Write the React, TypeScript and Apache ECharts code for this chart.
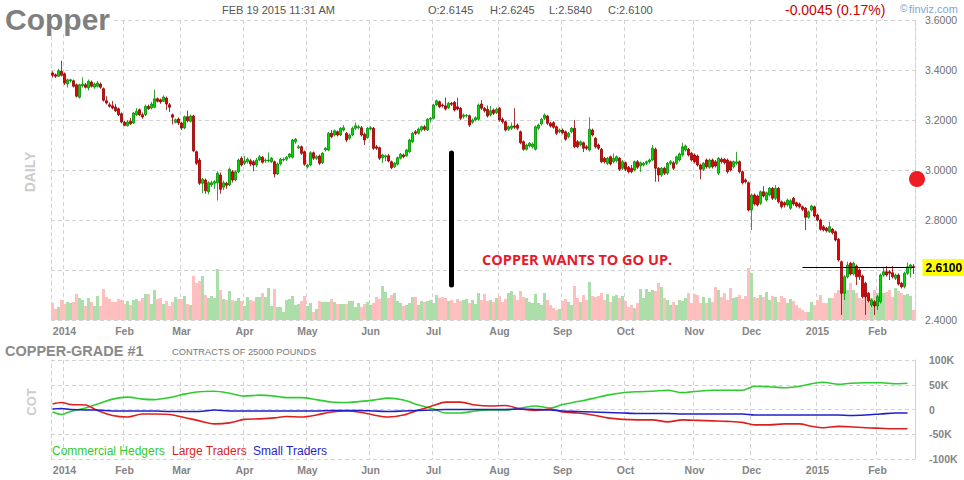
import { useEffect, useRef } from "react";
import * as echarts from "echarts";

// trading days shown on the chart (holidays and one missing session removed)
const firstDay = "2013-12-26";
const lastDay = "2015-02-19";
const closedDays = [
    "2014-01-01", "2014-01-02", "2014-01-20", "2014-02-17", "2014-04-18",
    "2014-05-26", "2014-07-04", "2014-09-01", "2014-11-27", "2014-12-25",
    "2015-01-01", "2015-01-19", "2015-02-16",
];
const monthNames = ["Jan", "Feb", "Mar", "Apr", "May", "Jun", "Jul", "Aug", "Sep", "Oct", "Nov", "Dec"];

// daily candles: [open, close, low, high]
const candles: number[][] = [
    [3.388, 3.379, 3.370, 3.395], [3.381, 3.375, 3.368, 3.386], [3.375, 3.397, 3.372, 3.405], [3.395, 3.379, 3.374, 3.437],
    [3.385, 3.348, 3.340, 3.390], [3.344, 3.361, 3.330, 3.366], [3.357, 3.361, 3.350, 3.365], [3.357, 3.335, 3.330, 3.362],
    [3.341, 3.295, 3.290, 3.346], [3.291, 3.341, 3.286, 3.345], [3.337, 3.344, 3.330, 3.371], [3.341, 3.331, 3.326, 3.348],
    [3.328, 3.355, 3.318, 3.362], [3.352, 3.335, 3.330, 3.358], [3.332, 3.344, 3.325, 3.350], [3.335, 3.348, 3.330, 3.356],
    [3.344, 3.331, 3.325, 3.350], [3.325, 3.279, 3.274, 3.330], [3.277, 3.268, 3.262, 3.295], [3.261, 3.255, 3.250, 3.270],
    [3.257, 3.248, 3.242, 3.276], [3.252, 3.237, 3.232, 3.265], [3.245, 3.221, 3.216, 3.250], [3.225, 3.192, 3.186, 3.230],
    [3.191, 3.179, 3.175, 3.196], [3.177, 3.192, 3.174, 3.200], [3.195, 3.185, 3.180, 3.208], [3.188, 3.228, 3.184, 3.232],
    [3.221, 3.235, 3.216, 3.248], [3.241, 3.221, 3.216, 3.246], [3.221, 3.212, 3.205, 3.230], [3.221, 3.255, 3.216, 3.262],
    [3.255, 3.245, 3.240, 3.262], [3.248, 3.264, 3.242, 3.272], [3.251, 3.285, 3.248, 3.321], [3.285, 3.275, 3.270, 3.290],
    [3.281, 3.272, 3.265, 3.286], [3.275, 3.292, 3.272, 3.298], [3.288, 3.264, 3.240, 3.294], [3.261, 3.251, 3.232, 3.268],
    [3.221, 3.211, 3.182, 3.226], [3.191, 3.201, 3.186, 3.206], [3.204, 3.188, 3.180, 3.210], [3.188, 3.168, 3.160, 3.193],
    [3.168, 3.213, 3.163, 3.218], [3.213, 3.197, 3.190, 3.237], [3.195, 3.216, 3.190, 3.222], [3.216, 3.077, 3.072, 3.221],
    [3.073, 3.027, 3.020, 3.078], [3.040, 2.947, 2.940, 3.048], [2.947, 2.963, 2.907, 2.968], [2.960, 2.917, 2.905, 2.966],
    [2.913, 2.949, 2.903, 2.955], [2.940, 2.949, 2.932, 2.957], [2.947, 2.953, 2.925, 2.960], [2.949, 2.987, 2.878, 2.995],
    [2.980, 2.923, 2.905, 2.990], [2.931, 2.949, 2.920, 2.958], [2.947, 2.939, 2.925, 2.953], [2.940, 3.003, 2.935, 3.010],
    [2.993, 2.960, 2.950, 3.000], [2.960, 2.993, 2.955, 2.998], [2.993, 3.040, 2.988, 3.046], [3.047, 3.020, 3.014, 3.055],
    [3.027, 3.036, 3.020, 3.056], [3.033, 3.043, 3.026, 3.050], [3.037, 3.024, 3.015, 3.045], [3.033, 3.020, 2.995, 3.040],
    [3.020, 3.040, 3.012, 3.048], [3.040, 3.053, 3.035, 3.060], [3.051, 3.031, 3.025, 3.056], [3.037, 3.040, 3.028, 3.046],
    [3.037, 3.040, 3.030, 3.070], [3.033, 3.047, 3.028, 3.052], [3.033, 2.984, 2.970, 3.038], [2.984, 3.024, 2.980, 3.030],
    [3.024, 3.043, 3.018, 3.048], [3.040, 3.043, 3.034, 3.050], [3.043, 3.051, 3.036, 3.056], [3.053, 3.064, 3.046, 3.068],
    [3.051, 3.120, 3.046, 3.125], [3.113, 3.123, 3.105, 3.128], [3.089, 3.093, 3.084, 3.100], [3.093, 3.067, 3.060, 3.098],
    [3.073, 3.023, 3.017, 3.078], [3.013, 3.020, 3.006, 3.025], [3.020, 3.069, 3.015, 3.075], [3.069, 3.047, 3.040, 3.074],
    [3.047, 3.053, 3.040, 3.060], [3.056, 3.027, 3.020, 3.062], [3.029, 3.067, 3.024, 3.072], [3.080, 3.087, 3.074, 3.092],
    [3.080, 3.147, 3.075, 3.152], [3.147, 3.133, 3.127, 3.160], [3.140, 3.157, 3.134, 3.162], [3.153, 3.140, 3.134, 3.158],
    [3.140, 3.167, 3.136, 3.172], [3.160, 3.169, 3.154, 3.180], [3.147, 3.120, 3.112, 3.152], [3.127, 3.140, 3.120, 3.146],
    [3.140, 3.167, 3.135, 3.174], [3.167, 3.177, 3.160, 3.190], [3.169, 3.173, 3.162, 3.180], [3.169, 3.140, 3.134, 3.176],
    [3.143, 3.120, 3.100, 3.150], [3.129, 3.167, 3.125, 3.172], [3.164, 3.169, 3.158, 3.175], [3.167, 3.087, 3.080, 3.172],
    [3.093, 3.087, 3.080, 3.100], [3.089, 3.047, 3.040, 3.094], [3.049, 3.060, 3.028, 3.065], [3.053, 3.057, 3.035, 3.062],
    [3.057, 3.036, 3.030, 3.065], [3.033, 3.009, 3.003, 3.038], [3.013, 3.027, 3.008, 3.032], [3.023, 3.049, 3.018, 3.054],
    [3.047, 3.063, 3.042, 3.068], [3.060, 3.053, 3.047, 3.066], [3.057, 3.080, 3.052, 3.085], [3.073, 3.120, 3.068, 3.125],
    [3.113, 3.147, 3.108, 3.152], [3.153, 3.147, 3.140, 3.160], [3.147, 3.164, 3.142, 3.170], [3.160, 3.173, 3.154, 3.178],
    [3.173, 3.163, 3.156, 3.180], [3.160, 3.203, 3.155, 3.208], [3.203, 3.207, 3.190, 3.212], [3.207, 3.260, 3.202, 3.265],
    [3.260, 3.277, 3.255, 3.282], [3.273, 3.253, 3.247, 3.278], [3.260, 3.257, 3.250, 3.266], [3.257, 3.244, 3.238, 3.290],
    [3.249, 3.267, 3.244, 3.272], [3.267, 3.263, 3.256, 3.272], [3.271, 3.240, 3.234, 3.276], [3.253, 3.244, 3.238, 3.289],
    [3.247, 3.207, 3.200, 3.252], [3.213, 3.220, 3.206, 3.226], [3.217, 3.218, 3.210, 3.224], [3.217, 3.180, 3.172, 3.222],
    [3.191, 3.200, 3.185, 3.206], [3.200, 3.209, 3.194, 3.215], [3.203, 3.260, 3.198, 3.266], [3.264, 3.247, 3.240, 3.280],
    [3.247, 3.237, 3.230, 3.252], [3.243, 3.216, 3.210, 3.258], [3.220, 3.237, 3.214, 3.256], [3.240, 3.227, 3.220, 3.246],
    [3.229, 3.243, 3.224, 3.250], [3.247, 3.200, 3.194, 3.252], [3.203, 3.193, 3.186, 3.210], [3.193, 3.160, 3.154, 3.198],
    [3.163, 3.173, 3.156, 3.178], [3.167, 3.176, 3.160, 3.190], [3.176, 3.171, 3.164, 3.247], [3.180, 3.167, 3.160, 3.186],
    [3.153, 3.109, 3.103, 3.158], [3.113, 3.083, 3.077, 3.118], [3.083, 3.100, 3.078, 3.105], [3.096, 3.107, 3.090, 3.112],
    [3.093, 3.104, 3.086, 3.110], [3.083, 3.173, 3.078, 3.178], [3.167, 3.180, 3.160, 3.186], [3.184, 3.203, 3.178, 3.208],
    [3.207, 3.220, 3.200, 3.226], [3.216, 3.187, 3.180, 3.221], [3.187, 3.176, 3.170, 3.193], [3.189, 3.171, 3.165, 3.195],
    [3.173, 3.147, 3.140, 3.178], [3.153, 3.160, 3.147, 3.166], [3.160, 3.149, 3.143, 3.166], [3.153, 3.123, 3.117, 3.158],
    [3.133, 3.147, 3.127, 3.152], [3.153, 3.167, 3.147, 3.172], [3.167, 3.093, 3.087, 3.200], [3.113, 3.093, 3.087, 3.120],
    [3.100, 3.113, 3.094, 3.118], [3.109, 3.087, 3.072, 3.114], [3.093, 3.087, 3.080, 3.100], [3.080, 3.163, 3.074, 3.211],
    [3.160, 3.140, 3.134, 3.166], [3.127, 3.093, 3.086, 3.132], [3.100, 3.087, 3.080, 3.106], [3.083, 3.033, 3.027, 3.088],
    [3.047, 3.033, 3.026, 3.052], [3.027, 3.047, 3.020, 3.052], [3.053, 3.024, 3.018, 3.058], [3.033, 3.047, 3.027, 3.066],
    [3.037, 3.053, 3.030, 3.058], [3.047, 3.003, 2.996, 3.052], [3.007, 3.033, 3.000, 3.040], [3.029, 3.003, 2.995, 3.034],
    [3.011, 2.993, 2.986, 3.016], [3.007, 2.993, 2.987, 3.020], [3.000, 3.033, 2.995, 3.038], [3.033, 3.011, 3.004, 3.040],
    [3.016, 3.029, 2.992, 3.034], [3.020, 3.027, 3.014, 3.032], [3.027, 3.033, 3.020, 3.038], [3.033, 3.040, 3.026, 3.046],
    [3.040, 3.087, 3.035, 3.100], [3.083, 3.007, 2.953, 3.090], [3.007, 2.980, 2.953, 3.012], [2.980, 3.007, 2.972, 3.012],
    [3.007, 2.987, 2.980, 3.013], [2.987, 3.027, 2.980, 3.032], [3.027, 3.033, 3.020, 3.040], [3.029, 3.007, 3.000, 3.035],
    [3.027, 3.053, 3.020, 3.058], [3.040, 3.064, 3.034, 3.070], [3.060, 3.093, 3.054, 3.109], [3.080, 3.096, 3.074, 3.102],
    [3.083, 3.060, 3.054, 3.088], [3.067, 3.040, 3.034, 3.072], [3.060, 3.033, 3.026, 3.066], [3.056, 3.020, 3.014, 3.062],
    [3.020, 3.003, 2.963, 3.026], [3.003, 3.027, 2.996, 3.032], [3.040, 3.013, 3.006, 3.046], [3.011, 3.040, 3.005, 3.046],
    [3.040, 3.013, 3.006, 3.046], [3.033, 3.016, 3.010, 3.040], [2.987, 3.047, 2.980, 3.052], [3.043, 3.033, 3.026, 3.050],
    [3.043, 3.029, 3.022, 3.048], [3.040, 2.993, 2.986, 3.046], [3.033, 3.000, 2.994, 3.038], [3.013, 3.033, 3.006, 3.038],
    [3.027, 3.033, 3.020, 3.073], [3.033, 2.993, 2.986, 3.038], [2.993, 2.949, 2.942, 2.998], [2.960, 2.953, 2.946, 2.966],
    [2.949, 2.840, 2.834, 2.954], [2.840, 2.900, 2.760, 2.906], [2.900, 2.864, 2.858, 2.906], [2.896, 2.860, 2.854, 2.902],
    [2.867, 2.913, 2.860, 2.918], [2.913, 2.896, 2.890, 2.935], [2.880, 2.909, 2.874, 2.914], [2.900, 2.927, 2.894, 2.932],
    [2.927, 2.887, 2.880, 2.932], [2.887, 2.927, 2.880, 2.940], [2.927, 2.873, 2.866, 2.932], [2.873, 2.853, 2.846, 2.878],
    [2.869, 2.860, 2.850, 2.875], [2.860, 2.880, 2.854, 2.886], [2.847, 2.877, 2.840, 2.884], [2.887, 2.864, 2.858, 2.892],
    [2.869, 2.856, 2.850, 2.874], [2.864, 2.853, 2.846, 2.870], [2.853, 2.843, 2.836, 2.858], [2.847, 2.811, 2.760, 2.852],
    [2.811, 2.833, 2.805, 2.838], [2.840, 2.856, 2.834, 2.862], [2.853, 2.816, 2.810, 2.858], [2.820, 2.800, 2.794, 2.825],
    [2.800, 2.763, 2.757, 2.806], [2.773, 2.760, 2.754, 2.780], [2.767, 2.757, 2.750, 2.772], [2.753, 2.773, 2.748, 2.793],
    [2.763, 2.749, 2.742, 2.768], [2.753, 2.720, 2.714, 2.758], [2.723, 2.640, 2.634, 2.728], [2.633, 2.507, 2.420, 2.638],
    [2.507, 2.573, 2.480, 2.580], [2.573, 2.620, 2.566, 2.633], [2.627, 2.584, 2.578, 2.633], [2.584, 2.627, 2.578, 2.633],
    [2.616, 2.573, 2.540, 2.622], [2.600, 2.573, 2.560, 2.606], [2.576, 2.493, 2.486, 2.582], [2.547, 2.493, 2.420, 2.553],
    [2.507, 2.477, 2.470, 2.512], [2.460, 2.480, 2.452, 2.486], [2.473, 2.456, 2.420, 2.480], [2.456, 2.493, 2.440, 2.500],
    [2.473, 2.580, 2.466, 2.586], [2.580, 2.593, 2.573, 2.613], [2.593, 2.580, 2.574, 2.616], [2.593, 2.587, 2.560, 2.600],
    [2.589, 2.573, 2.566, 2.616], [2.567, 2.580, 2.560, 2.586], [2.580, 2.544, 2.538, 2.586], [2.547, 2.533, 2.526, 2.553],
    [2.533, 2.587, 2.526, 2.593], [2.587, 2.613, 2.580, 2.630], [2.607, 2.620, 2.570, 2.625], [2.6145, 2.610, 2.584, 2.6245],
];

// daily volume (thousand contracts)
const volumes = [
    17, 11, 13, 20, 16, 18, 17, 18, 26, 22, 20, 14, 22, 18, 14, 24, 14, 31, 23, 21,
    18, 18, 21, 20, 16, 19, 15, 20, 21, 19, 22, 26, 26, 16, 30, 21, 22, 16, 19, 14,
    18, 23, 21, 21, 24, 16, 15, 44, 37, 39, 44, 25, 22, 24, 22, 51, 30, 21, 20, 29,
    20, 19, 22, 19, 14, 23, 20, 19, 23, 23, 27, 23, 32, 14, 31, 13, 13, 8, 20, 21,
    24, 15, 16, 19, 24, 14, 17, 8, 11, 19, 18, 18, 18, 21, 18, 16, 16, 16, 16, 19,
    19, 13, 17, 13, 16, 18, 15, 17, 23, 21, 34, 28, 22, 25, 27, 19, 17, 14, 15, 17,
    23, 23, 15, 19, 18, 19, 20, 17, 25, 22, 23, 22, 19, 20, 17, 21, 19, 20, 21, 17,
    20, 16, 27, 20, 26, 19, 20, 18, 22, 24, 18, 21, 27, 29, 25, 20, 29, 23, 22, 18,
    17, 26, 17, 15, 27, 20, 15, 12, 10, 11, 19, 21, 18, 15, 34, 22, 18, 25, 20, 38,
    24, 23, 24, 27, 20, 26, 18, 24, 25, 22, 24, 19, 13, 15, 12, 17, 31, 22, 31, 28,
    30, 29, 37, 33, 22, 20, 15, 18, 15, 20, 19, 22, 27, 17, 26, 25, 17, 23, 17, 22,
    18, 33, 30, 23, 27, 20, 32, 22, 23, 25, 21, 24, 52, 47, 23, 22, 25, 23, 28, 20,
    24, 23, 18, 24, 22, 17, 21, 19, 15, 12, 10, 8, 8, 18, 15, 20, 25, 17, 17, 22,
    22, 27, 30, 33, 28, 30, 37, 30, 27, 22, 20, 30, 23, 22, 30, 27, 27, 27, 28, 30,
    23, 32, 29, 27, 25, 26, 24, 10,
];

// weekly COT net positions (thousand contracts), Tuesdays from 2013-12-24
const cotStart = "2013-12-24";
const commercialHedgers = [
    -5, -10, -4, 3, 11, 21, 25, 21, 20, 24, 31, 36, 37, 33, 27, 29, 27, 24, 24, 20,
    15, 14, 16, 19, 23, 19, 9, 1, -7, -7, -3, -1, -1, 3, 7, 3, 10, 16, 22, 29,
    34, 36, 37, 39, 34, 37, 39, 39, 39, 47, 46, 44, 47, 52, 55, 51, 53, 54, 54, 52, 53,
];
const largeTraders = [
    11, 14, 10, 9, -2, -12, -15, -9, -9, -10, -16, -23, -29, -27, -20, -19, -17, -14, -15, -11,
    -5, -3, -5, -11, -15, -11, -1, 8, 15, 15, 9, 7, 8, 1, -2, 1, -5, -7, -11, -17,
    -20, -21, -21, -25, -21, -22, -23, -24, -26, -31, -31, -29, -29, -34, -37, -34, -35, -37, -38, -39, -39,
];
const smallTraders = [
    1, 2, 0, -1, -1, -3, -3, -3, -3, -4, -4, -4, -1, -3, -3, -3, -3, -3, -3, -3,
    -2, -2, -2, -3, -4, -3, -2, -1, 0, 0, 0, 0, 0, 1, 0, -1, -3, -4, -5, -6,
    -7, -8, -8, -8, -9, -9, -9, -9, -9, -11, -11, -11, -11, -11, -11, -11, -12, -11, -9, -7, -7,
];

// hand-drawn annotations on the chart
const arrowDay = 133;
const arrowTop = 3.068;
const arrowBottom = 2.54;
const levelStartDay = 250;
const levelPrice = 2.61;

function iso(d: Date) {
    return d.toISOString().slice(0, 10);
}

function buildDays() {
    const out: string[] = [];
    const d = new Date(firstDay + "T00:00:00Z");
    const end = new Date(lastDay + "T00:00:00Z");
    while (d <= end) {
        const wd = d.getUTCDay();
        const s = iso(d);
        if (wd !== 0 && wd !== 6 && !closedDays.includes(s)) out.push(s);
        d.setUTCDate(d.getUTCDate() + 1);
    }
    return out;
}

const days = buildDays();
const isMonthStart = (i: number) => i > 0 && days[i].slice(5, 7) !== days[i - 1].slice(5, 7);
const monthLabel = (v: string) => {
    const m = Number(v.slice(5, 7)) - 1;
    return m === 0 ? v.slice(0, 4) : monthNames[m];
};

function weeklyToDaily(values: number[]) {
    const out: (number | null)[] = days.map(() => null);
    const d = new Date(cotStart + "T00:00:00Z");
    values.forEach((v) => {
        const s = iso(d);
        const idx = days.findIndex((day) => day >= s);
        if (idx >= 0) out[idx] = v * 1000;
        d.setUTCDate(d.getUTCDate() + 7);
    });
    return out;
}

const FONT = "'Liberation Sans', Arial, sans-serif";
const GRID_LINE = { color: "#d2d2d2", type: [4, 3] as number[], width: 1 };
const UP = "#00dc00";
const DOWN = "#ea0000";

function txt(text: string, x: number, y: number, font: string, fill: string, extra: any = {}) {
    return {
        type: "text",
        x,
        y,
        z: 100,
        ...extra,
        style: {
            text,
            font,
            fill,
            align: "left",
            verticalAlign: "middle",
            textAlign: "left",
            textVerticalAlign: "middle",
            ...(extra.style || {}),
        },
    };
}

export default function App() {
    const chartRef = useRef<HTMLDivElement>(null);

    useEffect(() => {
        document.body.style.margin = "0";
        if (!chartRef.current) return;
        const chart = echarts.init(chartRef.current, undefined, { renderer: "svg" });

        const xBase = (gridIndex: number) => ({
            type: "category",
            gridIndex,
            data: days,
            boundaryGap: true,
            axisLine: { show: false },
            axisTick: { show: false },
            axisLabel: {
                interval: (i: number) => isMonthStart(i),
                formatter: monthLabel,
                color: "#858585",
                fontWeight: "bold",
                fontSize: 10.5,
                fontFamily: FONT,
                margin: 5,
            },
            splitLine: { show: true, interval: (i: number) => isMonthStart(i), lineStyle: GRID_LINE },
        });

        const option = {
            animation: false,
            textStyle: { fontFamily: FONT },
            grid: [
                { left: 51, top: 20, width: 864, height: 300 },
                { left: 51, top: 360, width: 864, height: 99 },
            ],
            xAxis: [xBase(0), xBase(1)],
            yAxis: [
                {
                    gridIndex: 0,
                    position: "right",
                    min: 2.4,
                    max: 3.6,
                    interval: 0.2,
                    axisLine: { show: true, lineStyle: GRID_LINE },
                    axisTick: { show: false },
                    axisLabel: {
                        formatter: (v: number) => (Math.abs(v - 2.6) < 1e-6 ? "" : v.toFixed(4)),
                        color: "#707070",
                        fontSize: 10.5,
                        fontFamily: FONT,
                        margin: 10,
                    },
                    splitLine: { show: true, lineStyle: GRID_LINE },
                },
                {
                    gridIndex: 0,
                    position: "left",
                    min: 2.4,
                    max: 3.6,
                    interval: 0.2,
                    axisLine: { show: true, lineStyle: GRID_LINE },
                    axisTick: { show: false },
                    axisLabel: { show: false },
                    splitLine: { show: false },
                },
                { gridIndex: 0, min: 0, max: 300, show: false, splitLine: { show: false } },
                {
                    gridIndex: 1,
                    position: "right",
                    min: -100000,
                    max: 100000,
                    interval: 50000,
                    axisLine: { show: true, lineStyle: GRID_LINE },
                    axisTick: { show: false },
                    axisLabel: {
                        formatter: (v: number) => (v === 0 ? "0" : v / 1000 + "K"),
                        color: "#858585",
                        fontWeight: "bold",
                        fontSize: 10.5,
                        fontFamily: FONT,
                        margin: 14,
                    },
                    splitLine: { show: true, lineStyle: GRID_LINE },
                },
                {
                    gridIndex: 1,
                    position: "left",
                    min: -100000,
                    max: 100000,
                    interval: 50000,
                    axisLine: { show: true, lineStyle: GRID_LINE },
                    axisTick: { show: false },
                    axisLabel: { show: false },
                    splitLine: { show: false },
                },
            ],
            series: [
                {
                    name: "Volume",
                    type: "bar",
                    xAxisIndex: 0,
                    yAxisIndex: 2,
                    z: 1,
                    barCategoryGap: "0%",
                    data: volumes.map((v, i) => ({
                        value: v,
                        itemStyle: { color: candles[i][1] >= candles[i][0] ? "#abdea9" : "#ffbfbf" },
                    })),
                },
                {
                    name: "Copper",
                    type: "candlestick",
                    xAxisIndex: 0,
                    yAxisIndex: 0,
                    z: 3,
                    barWidth: 2.3,
                    data: candles,
                    itemStyle: {
                        color: UP,
                        color0: DOWN,
                        borderColor: "#008a00",
                        borderColor0: "#8e0000",
                        borderWidth: 0.8,
                    },
                    markLine: {
                        symbol: ["none", "none"],
                        silent: true,
                        animation: false,
                        data: [
                            [
                                {
                                    coord: [days[arrowDay], arrowTop],
                                    lineStyle: { color: "#000", width: 5, type: "solid", cap: "round" },
                                    label: { show: false },
                                },
                                { coord: [days[arrowDay], arrowBottom] },
                            ],
                            [
                                {
                                    coord: [days[levelStartDay], levelPrice],
                                    lineStyle: { color: "#000", width: 1, type: "solid" },
                                    label: {
                                        show: true,
                                        position: "end",
                                        distance: 9,
                                        formatter: levelPrice.toFixed(4),
                                        color: "#000",
                                        fontWeight: "bold",
                                        fontSize: 12,
                                        fontFamily: FONT,
                                        backgroundColor: "#ffff00",
                                        padding: [3, 4, 2, 3],
                                    },
                                },
                                { coord: [days[days.length - 1], levelPrice] },
                            ],
                        ],
                    },
                },
                {
                    name: "Commercial Hedgers",
                    type: "line",
                    xAxisIndex: 1,
                    yAxisIndex: 3,
                    data: weeklyToDaily(commercialHedgers),
                    connectNulls: true,
                    smooth: 0.3,
                    showSymbol: false,
                    lineStyle: { color: "#2fcc2f", width: 1.6 },
                },
                {
                    name: "Large Traders",
                    type: "line",
                    xAxisIndex: 1,
                    yAxisIndex: 3,
                    data: weeklyToDaily(largeTraders),
                    connectNulls: true,
                    smooth: 0.3,
                    showSymbol: false,
                    lineStyle: { color: "#dd1f1f", width: 1.6 },
                },
                {
                    name: "Small Traders",
                    type: "line",
                    xAxisIndex: 1,
                    yAxisIndex: 3,
                    data: weeklyToDaily(smallTraders),
                    connectNulls: true,
                    smooth: 0.3,
                    showSymbol: false,
                    lineStyle: { color: "#1f1fcc", width: 1.6 },
                },
            ],
            graphic: [
                txt("Copper", 5, 19, `bold 30px ${FONT}`, "#7f7f7f", {
                    style: { backgroundColor: "#ffffff", padding: [0, 3, 0, 0] },
                }),
                txt("FEB 19 2015 11:31 AM", 222, 9.5, `11px ${FONT}`, "#555555"),
                txt("O:2.6145", 428, 9.5, `11px ${FONT}`, "#555555"),
                txt("H:2.6245", 490, 9.5, `11px ${FONT}`, "#555555"),
                txt("L:2.5840", 549, 9.5, `11px ${FONT}`, "#555555"),
                txt("C:2.6100", 608, 9.5, `11px ${FONT}`, "#555555"),
                txt("-0.0045 (0.17%)", 785, 9.5, `14px ${FONT}`, "#cc0000"),
                txt("\u00a9", 900, 8.5, `10px ${FONT}`, "#7ea6d4"),
                txt("finviz.com", 909, 8.5, `11px ${FONT}`, "#7ea6d4"),
                txt("DAILY", 30, 172, `bold 14px ${FONT}`, "#cccccc", {
                    rotation: Math.PI / 2,
                    style: { align: "center", textAlign: "center" },
                }),
                txt("COT", 31, 402, `bold 13px ${FONT}`, "#cccccc", {
                    rotation: Math.PI / 2,
                    style: { align: "center", textAlign: "center" },
                }),
                txt("COPPER-GRADE #1", 5, 351, `bold 14.5px ${FONT}`, "#8a8a8a"),
                txt("CONTRACTS OF 25000 POUNDS", 172, 352, `9.3px ${FONT}`, "#777777"),
                txt("Commercial Hedgers", 52, 451, `12px ${FONT}`, "#2fcc2f"),
                txt("Large Traders", 172, 451, `12px ${FONT}`, "#dd1f1f"),
                txt("Small Traders", 253, 451, `12px ${FONT}`, "#1f1fcc"),
                txt("COPPER WANTS TO GO UP.", 482, 259, `bold 14.5px 'Open Sans', ${FONT}`, "#e8192c"),
                {
                    type: "circle",
                    z: 100,
                    shape: { cx: 917, cy: 179, r: 8 },
                    style: { fill: "#ee1d23" },
                },
            ],
        };

        chart.setOption(option as any);
        return () => {
            chart.dispose();
        };
    }, []);

    return <div ref={chartRef} style={{ width: 964, height: 480 }} />;
}
